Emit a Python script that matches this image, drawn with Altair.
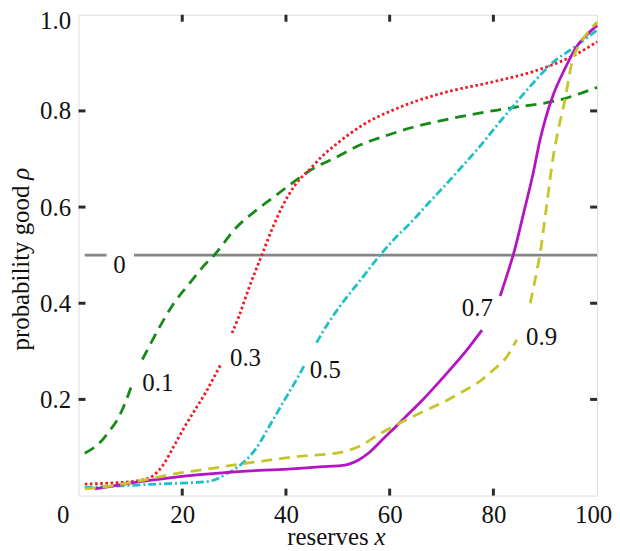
import altair as alt
import pandas as pd

# ---------------- data ----------------
levels = ["0", "0.1", "0.3", "0.5", "0.7", "0.9"]

# level 0 (grey)
l0_x1 = [1.2, 5.4]
l0_y1 = [0.5, 0.5]
l0_x2 = [10.7, 100]
l0_y2 = [0.5, 0.5]

# level 0.1 (green)
l1_x1 = [1.2, 3.0, 4.7, 6.0, 7.5, 9.0, 10.5]
l1_y1 = [0.088, 0.100, 0.117, 0.135, 0.158, 0.193, 0.237]
l1_x2 = [12.3, 14.0, 15.5, 18.4, 20.3, 21.6, 24.0, 26.4, 30.2, 34.1, 37.9, 41.7, 44.9,
         49.4, 54.5, 60.0, 64.5, 70.0, 75.0, 83.2, 92.8, 100]
l1_y2 = [0.283, 0.318, 0.348, 0.400, 0.427, 0.444, 0.476, 0.503, 0.555, 0.592, 0.623, 0.654, 0.678,
         0.702, 0.730, 0.751, 0.766, 0.780, 0.791, 0.806, 0.823, 0.849]

# level 0.3 (red)
l3_x1 = [1.2, 6.0, 10.0, 12.5, 14.2, 16.2, 18.5, 20.3, 22.9, 24.5, 26.4, 27.4]
l3_y1 = [0.024, 0.026, 0.029, 0.033, 0.040, 0.062, 0.105, 0.140, 0.186, 0.214, 0.252, 0.272]
l3_x2 = [29.6, 30.9, 32.8, 35.3, 37.2, 39.2, 41.7, 44.9, 47.0, 49.4, 52.0, 55.0, 60.9,
         65.0, 70.5, 80.1, 87.7, 92.8, 96.0, 100]
l3_y2 = [0.338, 0.372, 0.430, 0.499, 0.551, 0.599, 0.645, 0.682, 0.706, 0.728, 0.750, 0.772, 0.803,
         0.820, 0.838, 0.861, 0.882, 0.902, 0.918, 0.944]

# level 0.5 (cyan)
l5_x1 = [1.2, 8.0, 15.2, 20.0, 24.8, 27.0, 28.5, 30.9, 34.1, 37.2, 39.8, 42.4, 43.6]
l5_y1 = [0.017, 0.020, 0.024, 0.026, 0.029, 0.036, 0.045, 0.061, 0.096, 0.152, 0.200, 0.248, 0.272]
l5_x2 = [45.9, 48.1, 50.7, 54.5, 57.7, 61.0, 64.1, 67.3, 70.5, 74.0, 76.9, 81.3, 83.2, 87.0,
         91.6, 95.4, 100]
l5_y2 = [0.318, 0.358, 0.398, 0.450, 0.494, 0.535, 0.568, 0.606, 0.643, 0.685, 0.720, 0.778, 0.802,
         0.850, 0.902, 0.931, 0.968]

# level 0.7 (magenta)
l7_x1 = [3.1, 5.6, 10.0, 14.0, 18.4, 24.0, 30.9, 40.4, 47.0, 50.0, 52.0, 54.0, 56.0, 58.0,
         60.2, 63.0, 66.0, 70.5, 74.9, 77.8]
l7_y1 = [0.014, 0.018, 0.026, 0.032, 0.038, 0.044, 0.050, 0.055, 0.060, 0.062, 0.065, 0.074, 0.089,
         0.110, 0.133, 0.163, 0.195, 0.248, 0.303, 0.344]
l7_x2 = [81.3, 82.9, 83.9, 85.8, 87.7, 89.0, 90.0, 91.6, 93.8, 96.0, 97.9, 100]
l7_y2 = [0.415, 0.468, 0.503, 0.586, 0.672, 0.740, 0.782, 0.835, 0.888, 0.933, 0.957, 0.978]

# level 0.9 (olive yellow)
l9_x1 = [1.2, 5.6, 12.0, 18.4, 24.8, 30.9, 35.7, 40.4, 44.0, 48.0, 51.0, 54.5, 57.7, 60.9,
         64.0, 67.3, 70.5, 73.7, 77.0, 80.1, 82.6, 84.5]
l9_y1 = [0.014, 0.019, 0.031, 0.045, 0.055, 0.065, 0.072, 0.079, 0.083, 0.086, 0.091, 0.104, 0.126,
         0.145, 0.162, 0.179, 0.195, 0.214, 0.235, 0.262, 0.289, 0.324]
l9_x2 = [87.1, 88.4, 89.0, 90.3, 91.6, 92.5, 93.8, 95.1, 96.7, 98.3, 100]
l9_y2 = [0.400, 0.468, 0.503, 0.606, 0.709, 0.760, 0.823, 0.899, 0.940, 0.964, 0.985]

# inline contour labels
label_text = ["0", "0.1", "0.3", "0.5", "0.7", "0.9"]
label_x = [7.9, 15.3, 32.2, 47.6, 76.9, 89.3]
label_y = [0.479, 0.234, 0.285, 0.262, 0.391, 0.329]

x_ticks = [0, 20, 40, 60, 80, 100]
y_ticks = [0.2, 0.4, 0.6, 0.8, 1.0]
inner_x_ticks = [20, 40, 60, 80]
inner_y_ticks = [0.2, 0.4, 0.6, 0.8]

x_title = ["reserves", "x"]
y_title = ["probability good", "ρ"]

# ---------------- build ----------------
segments = {
    "0": [(l0_x1, l0_y1), (l0_x2, l0_y2)],
    "0.1": [(l1_x1, l1_y1), (l1_x2, l1_y2)],
    "0.3": [(l3_x1, l3_y1), (l3_x2, l3_y2)],
    "0.5": [(l5_x1, l5_y1), (l5_x2, l5_y2)],
    "0.7": [(l7_x1, l7_y1), (l7_x2, l7_y2)],
    "0.9": [(l9_x1, l9_y1), (l9_x2, l9_y2)],
}
styles = {
    "0": dict(color="#858585"),
    "0.1": dict(color="#168a16", strokeDash=[11, 7]),
    "0.3": dict(color="#ee1c24", strokeDash=[2.6, 2.6]),
    "0.5": dict(color="#1ec0c6", strokeDash=[8, 3, 2, 3]),
    "0.7": dict(color="#b414c4"),
    "0.9": dict(color="#c6c62a", strokeDash=[11, 7]),
}

W, H = 522, 484
FONT = "Liberation Serif, Times New Roman, Times, DejaVu Serif, serif"
FS = 25
FRAME = "#2b2b2b"
TXT = "#111111"

xs = alt.Scale(domain=[0, 100], nice=False, zero=False)
ys = alt.Scale(domain=[0, 1], nice=False, zero=False)

x_axis = alt.Axis(values=x_ticks, title=None, grid=False, domain=False, ticks=False,
                  tickSize=0, labelFont=FONT, labelFontSize=FS, labelColor=TXT,
                  labelPadding=7, labelFlush=False,
                  labelOffset={"condition": [{"test": "datum.value === 0", "value": -16},
                                             {"test": "datum.value === 100", "value": -4}],
                               "value": 0})
y_axis = alt.Axis(values=y_ticks, format=".1f", title=None, grid=False, domain=False,
                  ticks=False, tickSize=0, labelFont=FONT, labelFontSize=FS,
                  labelColor=TXT, labelPadding=8, labelFlush=False,
                  labelOffset={"condition": {"test": "datum.value === 1", "value": 6}, "value": 0})


def X(field):
    return alt.X(field, scale=xs, axis=x_axis)


def Y(field):
    return alt.Y(field, scale=ys, axis=y_axis)


layers = []
for lev in levels:
    rows = []
    for s, (sx, sy) in enumerate(segments[lev]):
        for i, (a, b) in enumerate(zip(sx, sy)):
            rows.append({"x": a, "y": b, "seg": f"{lev}-{s}", "i": i})
    df = pd.DataFrame(rows)
    layers.append(
        alt.Chart(df)
        .mark_line(strokeWidth=2.8, interpolate="monotone", **styles[lev])
        .encode(x=X("x:Q"), y=Y("y:Q"), detail="seg:N", order="i:Q")
    )

# inward ticks
tx = pd.DataFrame({"t": inner_x_ticks})
ty = pd.DataFrame({"t": inner_y_ticks})
tick_style = dict(color=FRAME, strokeWidth=3)
layers += [
    alt.Chart(tx).mark_rule(**tick_style).encode(x=X("t:Q"), y=alt.value(H), y2=alt.value(H - 7)),
    alt.Chart(tx).mark_rule(**tick_style).encode(x=X("t:Q"), y=alt.value(0), y2=alt.value(7)),
    alt.Chart(ty).mark_rule(**tick_style).encode(y=Y("t:Q"), x=alt.value(0), x2=alt.value(7)),
    alt.Chart(ty).mark_rule(**tick_style).encode(y=Y("t:Q"), x=alt.value(W), x2=alt.value(W - 7)),
]

# contour labels
lab = pd.DataFrame({"t": label_text, "x": label_x, "y": label_y})
layers.append(
    alt.Chart(lab).mark_text(font=FONT, fontSize=FS, color=TXT, align="center", baseline="middle")
    .encode(x=X("x:Q"), y=Y("y:Q"), text="t:N")
)

# axis titles (mixed upright / italic)
layers += [
    alt.Chart(pd.DataFrame({"t": [x_title[0]]})).mark_text(
        font=FONT, fontSize=FS, color=TXT, align="right", baseline="middle"
    ).encode(x=alt.value(292), y=alt.value(526), text="t:N"),
    alt.Chart(pd.DataFrame({"t": [x_title[1]]})).mark_text(
        font=FONT, fontSize=FS, fontStyle="italic", color=TXT, align="left", baseline="middle"
    ).encode(x=alt.value(298), y=alt.value(526), text="t:N"),
    alt.Chart(pd.DataFrame({"t": [y_title[0]]})).mark_text(
        font=FONT, fontSize=FS, color=TXT, align="right", baseline="middle", angle=270
    ).encode(x=alt.value(-58), y=alt.value(172), text="t:N"),
    alt.Chart(pd.DataFrame({"t": [y_title[1]]})).mark_text(
        font=FONT, fontSize=FS, fontStyle="italic", color=TXT, align="left", baseline="middle", angle=270
    ).encode(x=alt.value(-58), y=alt.value(166), text="t:N"),
]

chart = (
    alt.layer(*layers)
    .properties(
        width=W,
        height=H,
        autosize=alt.AutoSizeParams(type="none"),
        padding={"left": 71, "top": 5, "right": 15, "bottom": 54},
    )
    .configure_view(stroke=FRAME, strokeWidth=3)
    .configure(background="white")
)

chart.save("out.html", embed_options={"renderer": "svg", "actions": False})
